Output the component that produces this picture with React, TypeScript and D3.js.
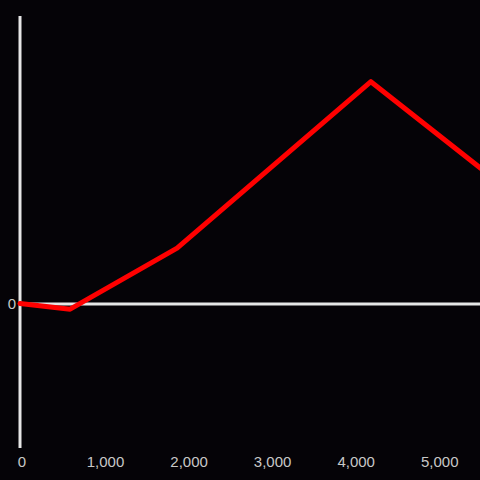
import React from "react";
import * as d3 from "d3";

const xValues = [0, 600, 1880, 4200, 5510];
const yValues = [2, -18, 194, 772, 472];
const xTicks = [0, 1000, 2000, 3000, 4000, 5000];
const yTicks = [0];

const W = 480;
const H = 480;

export default function App() {
  const x = d3.scaleLinear().domain([0, 5500]).range([20, 479.5]);
  const y = d3.scaleLinear().domain([-500, 1000]).range([448, 16]);
  const pts: [number, number][] = xValues.map((v, i) => [v, yValues[i]]);
  const line = d3
    .line<[number, number]>()
    .x((d) => x(d[0]))
    .y((d) => y(d[1]));
  const fmt = d3.format(",");
  return (
    <div style={{ position: "fixed", left: 0, top: 0, width: W, height: H }}>
      <svg width={W} height={H} style={{ display: "block" }}>
        <rect width={W} height={H} fill="#050307" />
        <defs>
          <clipPath id="plot">
            <rect x={0} y={0} width={W} height={H} />
          </clipPath>
        </defs>
        <line x1={x(0)} x2={x(0)} y1={y(1000)} y2={y(-500)} stroke="#e6e6e6" strokeWidth={3} />
        {yTicks.map((t) => (
          <g key={t}>
            <line x1={x(0)} x2={W} y1={y(t)} y2={y(t)} stroke="#e6e6e6" strokeWidth={3} />
            <text
              x={x(0) - 4}
              y={y(t)}
              dy="0.35em"
              textAnchor="end"
              fill="#c8c8c8"
              fontSize={15}
              fontFamily="Liberation Sans, Arial, sans-serif"
            >
              {fmt(t)}
            </text>
          </g>
        ))}
        {xTicks.map((t) => (
          <text
            key={t}
            x={x(t) + 2}
            y={466.5}
            textAnchor="middle"
            fill="#c8c8c8"
            fontSize={15}
            fontFamily="Liberation Sans, Arial, sans-serif"
          >
            {fmt(t)}
          </text>
        ))}
        <path
          d={line(pts) || ""}
          fill="none"
          stroke="#ff0000"
          strokeWidth={5}
          strokeLinejoin="round"
          strokeLinecap="round"
          clipPath="url(#plot)"
        />
      </svg>
    </div>
  );
}
